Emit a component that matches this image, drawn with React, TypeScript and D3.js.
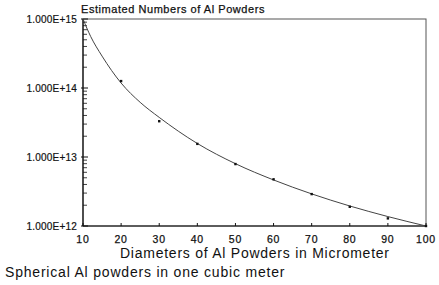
import React from "react";
import * as d3 from "d3";

const W = 439;
const H = 285;

const diameters = [20, 30, 40, 50, 60, 70, 80, 90, 100];
const counts = [1.26e14, 3.3e13, 1.55e13, 7.9e12, 4.75e12, 2.9e12, 1.9e12, 1.29e12, 1.0e12];

const fitDiameters = [10, 12, 15, 20, 25, 30, 40, 50, 60, 70, 80, 90, 100];
const fitCounts = [1.0e15, 5.6e14, 2.9e14, 1.18e14, 6.2e13, 3.75e13, 1.57e13, 8.0e12, 4.65e12, 2.92e12, 1.95e12, 1.37e12, 1.0e12];

const xTicks = [10, 20, 30, 40, 50, 60, 70, 80, 90, 100];
const yTicks = [1e12, 1e13, 1e14, 1e15];
const yTickLabels = ["1.000E+12", "1.000E+13", "1.000E+14", "1.000E+15"];

const titleText = "Estimated Numbers of Al Powders";
const xAxisTitle = "Diameters of Al Powders in Micrometer";
const captionText = "Spherical Al powders in one cubic meter";

export default function App() {
  const left = 83, right = 426, top = 19, bottom = 226;
  const x = d3.scaleLinear().domain([10, 100]).range([left, right]);
  const y = d3.scaleLog().domain([1e12, 1e15]).range([bottom, top]);

  const minor: number[] = [];
  for (let e = 12; e < 15; e++) {
    for (let m = 2; m <= 9; m++) minor.push(m * Math.pow(10, e));
  }

  const line = d3
    .line<number>()
    .x((_, i) => x(fitDiameters[i]))
    .y((d) => y(d))
    .curve(d3.curveMonotoneX);

  const font = "'Liberation Sans', Arial, sans-serif";
  const ink = "#111";

  return (
    <svg
      width={W}
      height={H}
      style={{ position: "absolute", left: 0, top: 0, background: "#fff" }}
      fontFamily={font}
    >
      <rect x={0} y={0} width={W} height={H} fill="#fff" />
      {/* frame */}
      <rect x={left} y={top} width={right - left} height={bottom - top} fill="none" stroke="#555" strokeWidth={1} />
      <line x1={left} x2={left} y1={top} y2={bottom} stroke={ink} strokeWidth={1.2} />
      <line x1={left} x2={right} y1={bottom} y2={bottom} stroke={ink} strokeWidth={1.2} />
      {/* y minor ticks */}
      {minor.map((v, i) => (
        <line key={"m" + i} x1={left} x2={left + 4} y1={y(v)} y2={y(v)} stroke={ink} strokeWidth={0.8} />
      ))}
      {/* y major ticks */}
      {yTicks.map((v, i) => (
        <g key={"y" + i}>
          <line x1={left - 2} x2={left + 5} y1={y(v)} y2={y(v)} stroke={ink} strokeWidth={1} />
          <text x={77} y={y(v)} dy="0.35em" textAnchor="end" fontSize={10} letterSpacing={0.2} fill={ink} stroke={ink} strokeWidth={0.2}>
            {yTickLabels[i]}
          </text>
        </g>
      ))}
      {/* x ticks */}
      {xTicks.map((v, i) => (
        <g key={"x" + i}>
          <line x1={x(v)} x2={x(v)} y1={bottom} y2={bottom - 3} stroke={ink} strokeWidth={1} />
          <text x={x(v)} y={243} textAnchor="middle" fontSize={10.5} letterSpacing={0.8} fill={ink} stroke={ink} strokeWidth={0.25}>
            {v}
          </text>
        </g>
      ))}
      {/* fitted curve */}
      <path d={line(fitCounts) || ""} fill="none" stroke="#444" strokeWidth={1} />
      {/* data points */}
      {counts.map((c, i) => (
        <rect key={"p" + i} x={x(diameters[i]) - 1.2} y={y(c) - 1.2} width={2.4} height={2.4} fill="#111" />
      ))}
      <text x={81} y={13} fontSize={11} fill={ink} letterSpacing={0.55} stroke={ink} strokeWidth={0.25}>
        {titleText}
      </text>
      <text x={120} y={258} fontSize={14} fill={ink} letterSpacing={0.75}>
        {xAxisTitle}
      </text>
      <text x={5} y={277} fontSize={14} fill={ink} letterSpacing={0.8}>
        {captionText}
      </text>
    </svg>
  );
}
